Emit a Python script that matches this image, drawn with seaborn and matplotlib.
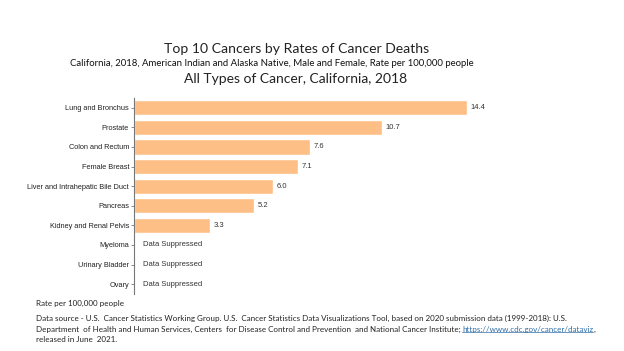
import numpy as np
import pandas as pd
import matplotlib
matplotlib.use("Agg")
import matplotlib.pyplot as plt
import seaborn as sns

cancers = ['Lung and Bronchus', 'Prostate', 'Colon and Rectum', 'Female Breast',
           'Liver and Intrahepatic Bile Duct', 'Pancreas', 'Kidney and Renal Pelvis',
           'Myeloma', 'Urinary Bladder', 'Ovary']
rates = [14.4, 10.7, 7.6, 7.1, 6.0, 5.2, 3.3, np.nan, np.nan, np.nan]

df = pd.DataFrame({'cancer': cancers, 'rate': rates})

sns.set_style("white")
plt.rcParams['font.family'] = ['Liberation Sans', 'DejaVu Sans']

fig = plt.figure(figsize=(6.24, 3.51), dpi=100)
ax = fig.add_axes([0.2147, 0.1624, 0.59, 0.5584])

sns.barplot(data=df, x='rate', y='cancer', color='#FDBF85', saturation=1,
            width=0.78, ax=ax, orient='h')
ax.set_xlim(0, 15.9)
ax.set_ylim(len(cancers) - 0.5, -0.5)

# value labels, or "Data Suppressed" where the rate is missing
for i, v in enumerate(rates):
    if np.isnan(v):
        ax.text(0.4, i, 'Data Suppressed', va='center', ha='left', fontsize=5.5, color='#333333')
    else:
        ax.text(v + 0.15, i, f'{v:.1f}', va='center', ha='left', fontsize=5.5, color='#333333')

ax.set_xlabel('')
ax.set_ylabel('')
ax.set_xticks([])
for s in ['top', 'right', 'bottom']:
    ax.spines[s].set_visible(False)
ax.spines['left'].set_color('#777777')
ax.spines['left'].set_linewidth(0.8)
ax.tick_params(axis='y', length=2.5, width=0.6, color='#777777', labelsize=5.3,
               labelcolor='#222222', pad=1, left=True)

tf = ['Lato', 'DejaVu Sans']
fig.text(0.475, 0.860, 'Top 10 Cancers by Rates of Cancer Deaths', ha='center', va='center',
         fontsize=10.05, family=tf, color='#222222')
fig.text(0.435, 0.818, 'California, 2018, American Indian and Alaska Native, Male and Female, Rate per 100,000 people',
         ha='center', va='center', fontsize=6.9, family=tf, color='#111111')
fig.text(0.473, 0.775, 'All Types of Cancer, California, 2018', ha='center', va='center',
         fontsize=10, family=tf, color='#222222')

ff = 5.75
fig.text(0.057, 0.134, 'Rate per 100,000 people', ha='left', va='center', fontsize=ff,
         family=tf, color='#222222')
fig.text(0.057, 0.094, 'Data source - U.S.  Cancer Statistics Working Group. U.S.  Cancer Statistics Data Visualizations Tool, '
         'based on 2020 submission data (1999-2018): U.S.', ha='left', va='center', fontsize=ff,
         family=tf, color='#222222')
t1 = fig.text(0.057, 0.062, 'Department  of Health and Human Services, Centers  for Disease Control and Prevention  '
              'and National Cancer Institute; ', ha='left', va='center', fontsize=ff,
              family=tf, color='#222222')
fig.canvas.draw()
bb = t1.get_window_extent()
x_link = bb.x1 / fig.bbox.width
lt = fig.text(x_link, 0.062, 'https://www.cdc.gov/cancer/dataviz', ha='left', va='center',
              fontsize=ff, family=tf, color='#2F6FA8')
fig.canvas.draw()
lb = lt.get_window_extent()
fig.add_artist(plt.Line2D([lb.x0 / fig.bbox.width, lb.x1 / fig.bbox.width],
                          [lb.y0 / fig.bbox.height + 0.003] * 2, color='#2F6FA8', lw=0.5))
fig.text(lb.x1 / fig.bbox.width, 0.062, ',', ha='left', va='center', fontsize=ff,
         family=tf, color='#222222')
fig.text(0.057, 0.032, 'released in June  2021.', ha='left', va='center', fontsize=ff,
         family=tf, color='#222222')

fig.savefig('out.png', dpi=100)
